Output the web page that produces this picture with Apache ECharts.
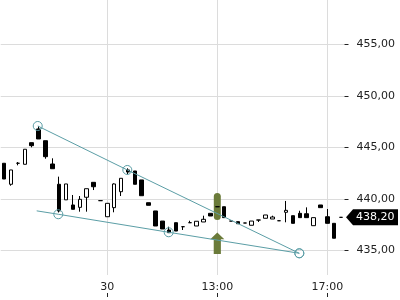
<!DOCTYPE html>
<html>
<head>
<meta charset="utf-8">
<script src="https://cdn.jsdelivr.net/npm/echarts@6/dist/echarts.min.js"></script>
<style>
html,body{margin:0;padding:0;background:#fff;}
#chart{width:400px;height:300px;}
</style>
</head>
<body>
<div id="chart"></div>
<script>
const categories = [
'29 13:45','29 14:00','29 14:15','29 14:30','29 14:45','29 15:00','29 15:15','29 15:30','29 15:45','29 16:00','29 16:15','29 16:30','29 16:45','29 17:00','29 17:15',
'30 09:00','30 09:15','30 09:30','30 09:45','30 10:00','30 10:15','30 10:30','30 10:45','30 11:00','30 11:15','30 11:30','30 11:45','30 12:00','30 12:15','30 12:30','30 12:45',
'30 13:00','30 13:15','30 13:30','30 13:45','30 14:00','30 14:15','30 14:30','30 14:45','30 15:00','30 15:15','30 15:30','30 15:45','30 16:00','30 16:15','30 16:30','30 16:45',
'30 17:00','30 17:15','30 17:30'];
const xTickLabels = {'30 09:00':'30','30 13:00':'13:00','30 17:00':'17:00'};

const openVals  = [443.45,441.41,443.45,443.35,445.45,446.78,445.64,443.38,441.41,439.90,439.40,439.17,440.15,441.60,439.82,438.26,439.14,440.69,442.80,442.70,441.83,439.62,438.82,437.84,436.97,437.68,437.29,437.68,437.36,437.75,438.59,439.23,439.23,437.84,437.78,437.65,437.43,437.94,438.11,438.04,437.87,438.69,438.36,438.59,438.55,437.39,439.40,438.26,437.62,438.20];
const closeVals = [441.92,442.80,443.45,444.81,445.16,445.81,444.09,442.92,438.82,441.44,438.98,439.95,440.98,441.17,439.82,439.56,441.44,441.99,442.60,441.41,440.30,439.37,437.36,437.07,436.71,436.87,437.29,437.68,437.82,438.01,438.33,439.23,438.17,437.84,437.58,437.65,437.84,437.94,438.43,438.23,437.87,438.88,437.62,438.17,438.17,438.17,439.14,437.62,436.17,438.20];
const lowVals   = [441.92,441.27,443.25,443.35,445.00,445.81,443.89,442.92,438.67,439.90,438.98,438.75,438.75,440.85,439.82,438.26,438.69,440.27,442.38,441.41,440.30,439.37,437.36,437.07,436.71,436.87,436.97,437.68,437.36,437.75,438.33,439.23,438.17,437.84,437.58,437.65,437.43,437.75,438.11,438.04,437.87,437.72,437.62,438.17,438.17,437.39,439.14,437.62,436.17,438.20];
const highVals  = [443.45,442.80,443.57,444.81,445.45,447.07,445.64,443.93,442.15,441.44,440.37,440.27,440.98,441.60,439.82,439.56,441.50,441.99,442.96,442.70,441.83,439.62,438.82,437.84,437.29,437.68,437.29,437.87,437.82,438.36,438.59,439.23,439.23,437.84,437.78,437.65,437.84,437.94,438.43,438.36,437.87,439.79,438.36,438.84,439.17,438.17,439.40,439.01,437.62,438.20];

const yTicks = [430, 435, 440, 445, 450, 455, 460];

// trend lines (x = candle index, y = price)
const upperLineX = [4.88, 17.91, 42.93];
const upperLineY = [447.07, 442.80, 434.71];
const lowerLineX = [4.73, 7.87, 23.93, 42.93];
const lowerLineY = [438.83, 438.50, 436.75, 434.71];
const lowerLineCircle = [false, true, true, true];

// signal markers at 13:00
const signalIndex = 31;
const signalBarPrice = 439.25;
const signalArrowPrice = 435.68;

const lastPrice = closeVals[closeVals.length - 1];

const TEAL = '#5b9ea6';
const OLIVE = '#6b7b3a';
const FONT = 'DejaVu Sans';
const fmt = v => v.toFixed(2).replace('.', ',');

const candleData = openVals.map((o, i) => [o, closeVals[i], lowVals[i], highVals[i]]);
const upperData = upperLineX.map((x, i) => [x, upperLineY[i]]);
const lowerData = lowerLineX.map((x, i) => lowerLineCircle[i] ? [x, lowerLineY[i]] : {value: [x, lowerLineY[i]], symbol: 'none'});
const tickIdx = new Set(categories.map((c, i) => xTickLabels[c] ? i : -1).filter(i => i >= 0));

const chart = echarts.init(document.getElementById('chart'), null, {renderer: 'canvas'});
const N = categories.length;
const band = 6.875;
const gLeft = 0.74;
const gWidth = band * N;

chart.setOption({
  animation: false,
  backgroundColor: '#fff',
  textStyle: {fontFamily: FONT},
  grid: [
    {left: gLeft, width: gWidth, top: -7.2, height: 309, outerBoundsMode: 'none', containLabel: false},
    {left: gLeft + band / 2, width: band * (N - 1), top: 0, height: 275, outerBoundsMode: 'none', containLabel: false}
  ],
  xAxis: [
    {type: 'category', gridIndex: 0, data: categories, boundaryGap: true, show: false},
    {type: 'value', gridIndex: 0, min: -0.5, max: N - 0.5, show: false},
    {type: 'category', gridIndex: 1, data: categories, boundaryGap: false, position: 'bottom', offset: 22,
     axisLine: {show: false, onZero: false},
     axisTick: {show: true, inside: true, length: 4, interval: (i) => tickIdx.has(i), lineStyle: {color: '#222', width: 1}},
     axisLabel: {show: true, inside: true, margin: 4, interval: (i) => tickIdx.has(i), formatter: v => xTickLabels[v] || '',
                 color: '#222', fontSize: 11, fontFamily: FONT},
     splitLine: {show: true, interval: (i) => tickIdx.has(i), lineStyle: {color: '#dcdcdc', width: 1}}
    }
  ],
  yAxis: [
    {type: 'value', gridIndex: 0, position: 'right', min: yTicks[0], max: yTicks[yTicks.length - 1], interval: 5,
     axisLine: {show: false, onZero: false},
     axisTick: {show: true, length: 4, lineStyle: {color: '#222', width: 1}},
     axisLabel: {show: true, margin: 12, color: '#222', fontSize: 11, fontFamily: FONT,
                 formatter: v => (v === yTicks[0] || v === yTicks[yTicks.length - 1]) ? '' : fmt(v)},
     splitLine: {show: true, lineStyle: {color: '#dcdcdc', width: 1}}
    },
    {type: 'value', gridIndex: 1, show: false, min: 0, max: 1, axisLine: {show: false, onZero: false}}
  ],
  series: [
    {type: 'scatter', xAxisIndex: 1, yAxisIndex: 0, z: 1, silent: true,
     data: [{value: [signalIndex, signalBarPrice], symbol: 'path://M0,3.5 A3.5,3.5 0 0 1 7,3.5 L7,23.5 A3.5,3.5 0 0 1 0,23.5 Z', symbolSize: [7, 27]},
            {value: [signalIndex, signalArrowPrice], symbol: 'path://M6.85,0 L13.7,6.6 L10.35,6.6 L10.35,21.3 L3.35,21.3 L3.35,6.6 L0,6.6 Z', symbolSize: [14, 21.5]}],
     itemStyle: {color: OLIVE, opacity: 1}
    },
    {type: 'candlestick', xAxisIndex: 0, yAxisIndex: 0, z: 2, data: candleData, barWidth: 4,
     itemStyle: {color: '#ffffff', color0: '#000000', borderColor: '#000000', borderColor0: '#000000', borderColorDoji: '#000000', borderWidth: 1}
    },
    {type: 'line', xAxisIndex: 1, yAxisIndex: 0, z: 3, data: upperData, symbol: 'circle', symbolSize: 9,
     lineStyle: {color: TEAL, width: 1}, itemStyle: {color: 'rgba(0,0,0,0)', borderColor: TEAL, borderWidth: 1}},
    {type: 'line', xAxisIndex: 1, yAxisIndex: 0, z: 3, data: lowerData, symbol: 'circle', symbolSize: 9,
     lineStyle: {color: TEAL, width: 1}, itemStyle: {color: 'rgba(0,0,0,0)', borderColor: TEAL, borderWidth: 1}}
  ]
});

const py = chart.convertToPixel({yAxisIndex: 0}, lastPrice);
chart.setOption({
  graphic: [
    {type: 'polygon', z: 100, shape: {points: [[346, py], [353, py - 8], [398, py - 8], [398, py + 8], [353, py + 8]]}, style: {fill: '#000'}},
    {type: 'text', z: 101, x: 356, y: py, style: {text: fmt(lastPrice), fill: '#fff', font: '11px "DejaVu Sans"', verticalAlign: 'middle', align: 'left'}}
  ]
});
</script>
</body>
</html>
